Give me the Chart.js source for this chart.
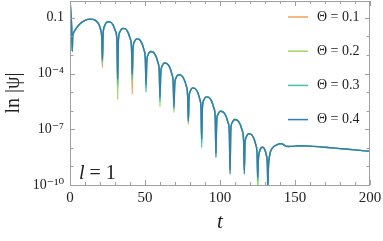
<!DOCTYPE html>
<html><head><meta charset="utf-8">
<script src="https://cdn.jsdelivr.net/npm/chart.js@4.4.1/dist/chart.umd.min.js"></script>
<style>html,body{margin:0;padding:0;background:#fff;overflow:hidden}#wrap{width:383px;height:241px}</style>
</head><body><div id="wrap"><canvas id="c" width="383" height="241"></canvas></div>
<script>
// ---- data ----
const seriesLabels = ['Θ = 0.1', 'Θ = 0.2', 'Θ = 0.3', 'Θ = 0.4'];
const seriesColors = ['#F2A15A', '#A3D468', '#45C2AA', '#2F7DBA'];

// time samples
const tValues = [
  0, 0.6, 1.1, 1.5, 1.8, 2.3, 4.0, 6.7, 10.0, 13.5, 16.0, 17.8, 19.5, 20.6, 21.2,
  21.6, 22.11, 23.13, 24.66, 26.7, 28.74, 30.27, 31.29,
  31.8, 32.29, 33.26, 34.71, 36.65, 38.59, 40.05, 41.02,
  41.5, 41.96, 42.88, 44.26, 46.1, 47.94, 49.32, 50.24,
  50.7, 51.17, 52.10, 53.49, 55.35, 57.21, 58.61, 59.54,
  60.0, 60.47, 61.40, 62.79, 64.65, 66.51, 67.91, 68.84,
  69.3, 69.78, 70.74, 72.18, 74.1, 76.02, 77.46, 78.42,
  78.9, 79.35, 80.24, 81.57, 83.35, 85.13, 86.47, 87.36,
  87.8, 88.28, 89.23, 90.65, 92.55, 94.45, 95.88, 96.83,
  97.3, 97.77, 98.71, 100.12, 102.0, 103.88, 105.29, 106.23,
  106.7, 107.18, 108.13, 109.55, 111.45, 113.35, 114.78, 115.73,
  116.2, 116.65, 117.55, 118.9, 120.7, 122.5, 123.85, 124.75,
  125.2, 125.54, 126.21, 127.21, 128.55, 129.89, 130.90, 131.57,
  131.9, 132.3, 132.8, 133.5, 134.4, 136.0, 137.8, 140.0, 141.5, 143.3, 145.5, 148.0,
  153.3, 160.0, 170.0, 180.0, 190.0, 200.0
];

// log10|psi| shared by all four curves; null marks a zero-crossing dip (series-specific)
const sharedLog10 = [
  -0.05, -0.75, -1.5, null, -2.0, -1.82, -1.58, -1.32, -1.14, -1.07, -1.1, -1.2, -1.4, -1.7, -2.1,
  null, -1.844, -1.425, -1.228, -1.218, -1.392, -1.711, -2.212,
  null, -2.174, -1.762, -1.577, -1.582, -1.771, -2.102, -2.610,
  null, -2.702, -2.303, -2.136, -2.165, -2.378, -2.727, -3.248,
  null, -3.382, -2.983, -2.816, -2.845, -3.058, -3.407, -3.928,
  null, -4.003, -3.604, -3.437, -3.466, -3.679, -4.028, -4.549,
  null, -4.630, -4.231, -4.064, -4.093, -4.306, -4.655, -5.176,
  null, -5.342, -4.943, -4.776, -4.805, -5.018, -5.367, -5.888,
  null, -5.825, -5.426, -5.259, -5.288, -5.501, -5.850, -6.371,
  null, -6.596, -6.197, -6.030, -6.059, -6.272, -6.621, -7.142,
  null, -7.040, -6.641, -6.474, -6.503, -6.716, -7.065, -7.586,
  null, -7.806, -7.407, -7.240, -7.269, -7.482, -7.831, -8.352,
  null, -8.69, -8.25, -8.022, -7.97, -8.102, -8.39, -8.87,
  null, -9.0, -8.55, -8.25, -8.07, -7.92, -7.84, -7.78, -7.79, -7.88, -7.93, -7.92,
  -7.89, -7.91, -7.97, -8.04, -8.11, -8.19
];

// depth (log10) of each dip, per series
const dipsTheta01 = [-2.8, -3.68, -4.8, -5.1, -4.8, -5.4, -5.9, -6.73, -7.6, -8.3, -9.2, -9.2, -9.7, -9.8];
const dipsTheta02 = [-2.8, -3.5, -5.4, -4.5, -4.8, -5.8, -6.1, -6.6, -7.7, -8.3, -9.2, -9.2, -10.6, -9.8];
const dipsTheta03 = [-2.8, -3.4, -4.6, -4.3, -5.0, -5.5, -5.9, -6.6, -7.98, -8.3, -9.2, -9.2, -9.8, -9.8];
const dipsTheta04 = [-2.8, -3.25, -4.3, -4.05, -4.6, -5.3, -5.8, -6.55, -7.53, -8.52, -9.41, -9.41, -9.6, -10.6];

const yTickValues = [1e-10, 1e-9, 1e-8, 1e-7, 1e-6, 1e-5, 1e-4, 1e-3, 1e-2, 1e-1];
const yTickLabels = ['10⁻¹⁰', '', '', '10⁻⁷', '', '', '10⁻⁴', '', '', '0.1'];
const xTickLabels = ['0', '50', '100', '150', '200'];

// ---- build datasets ----
function buildSeries(dips) {
  let k = 0;
  return tValues.map((t, i) => {
    let v = sharedLog10[i];
    if (v === null) v = dips[k++];
    return { x: t, y: Math.pow(10, v) };
  });
}
const allDips = [dipsTheta01, dipsTheta02, dipsTheta03, dipsTheta04];
const datasets = allDips.map((d, i) => ({
  label: seriesLabels[i],
  data: buildSeries(d),
  borderColor: seriesColors[i],
  backgroundColor: seriesColors[i],
  borderWidth: 1.4,
  pointRadius: 0,
  tension: 0,
  cubicInterpolationMode: 'monotone',
  order: 3 - i
}));

const SERIF = "'Liberation Serif', 'DejaVu Serif', serif";

const framePlugin = {
  id: 'frameTicks',
  afterDatasetsDraw(chart) {
    const { ctx, chartArea: a, scales: { x, y } } = chart;
    ctx.save();
    ctx.strokeStyle = '#a0a0a0';
    ctx.lineWidth = 1;
    ctx.beginPath();
    x.ticks.forEach(tk => {
      const px = Math.round(x.getPixelForValue(tk.value)) + 0.5;
      const len = tk.value % 50 === 0 ? 5 : 3;
      ctx.moveTo(px, a.bottom); ctx.lineTo(px, a.bottom - len);
      ctx.moveTo(px, a.top); ctx.lineTo(px, a.top + len);
    });
    y.ticks.forEach((tk, i) => {
      const py = Math.round(y.getPixelForValue(tk.value)) + 0.5;
      const len = yTickLabels[i] ? 5 : 3.5;
      ctx.moveTo(a.left, py); ctx.lineTo(a.left + len, py);
      ctx.moveTo(a.right, py); ctx.lineTo(a.right - len, py);
    });
    ctx.stroke();
    ctx.strokeRect(Math.round(a.left) + 0.5, Math.round(a.top) + 0.5,
      Math.round(a.right - a.left) - 1, Math.round(a.bottom - a.top));
    ctx.restore();
  },
  afterDraw(chart) {
    const { ctx, chartArea: a } = chart;
    ctx.save();
    // legend
    ctx.font = '14px ' + SERIF;
    ctx.textBaseline = 'middle';
    ctx.fillStyle = '#222';
    chart.data.datasets.forEach((ds, i) => {
      const yy = 17 + i * 34.2;
      ctx.strokeStyle = ds.borderColor;
      ctx.lineWidth = 1.5;
      ctx.beginPath();
      ctx.moveTo(288, yy); ctx.lineTo(308, yy);
      ctx.stroke();
      ctx.fillText(ds.label, 317, yy);
    });
    // l = 1 annotation
    ctx.textBaseline = 'alphabetic';
    ctx.font = 'italic 20px ' + SERIF;
    ctx.fillText('l', a.left + 9, a.bottom - 6);
    const w = ctx.measureText('l').width;
    ctx.font = '20px ' + SERIF;
    ctx.fillText(' = 1', a.left + 9 + w, a.bottom - 6);
    ctx.restore();
  }
};

new Chart(document.getElementById('c'), {
  type: 'line',
  data: { datasets },
  options: {
    responsive: false,
    animation: false,
    devicePixelRatio: 1,
    layout: { padding: { top: 1, right: 13, left: 0, bottom: 0 } },
    plugins: { legend: { display: false }, tooltip: { enabled: false } },
    scales: {
      x: {
        type: 'linear', min: 0, max: 200,
        grid: { display: false, drawTicks: false },
        border: { display: false },
        afterBuildTicks: s => { const t = []; for (let v = 0; v <= 200; v += 10) t.push({ value: v }); s.ticks = t; },
        ticks: {
          autoSkip: false, maxRotation: 0, padding: 4, color: '#222',
          font: { family: SERIF, size: 15 },
          callback: v => (v % 50 === 0 ? xTickLabels[v / 50] : '')
        },
        title: { display: true, text: 't', color: '#222', font: { family: SERIF, size: 21, style: 'italic' }, padding: { top: 0, bottom: 6 } },
        afterFit: s => { s.height = 56; s.paddingLeft = 0; s.paddingRight = 0; }
      },
      y: {
        type: 'logarithmic', min: 1e-10, max: 0.8,
        grid: { display: false, drawTicks: false },
        border: { display: false },
        afterBuildTicks: s => { s.ticks = yTickValues.map(v => ({ value: v })); },
        ticks: {
          autoSkip: false, padding: 6, color: '#222',
          font: { family: SERIF, size: 14 },
          callback: (v, i) => yTickLabels[i]
        },
        title: { display: true, text: 'ln |ψ|', color: '#222', font: { family: SERIF, size: 20 }, padding: { top: 2, bottom: 0 } },
        afterFit: s => { s.width = 70; s.paddingTop = 0; s.paddingBottom = 0; }
      }
    }
  },
  plugins: [framePlugin]
});
</script>
</body></html>
